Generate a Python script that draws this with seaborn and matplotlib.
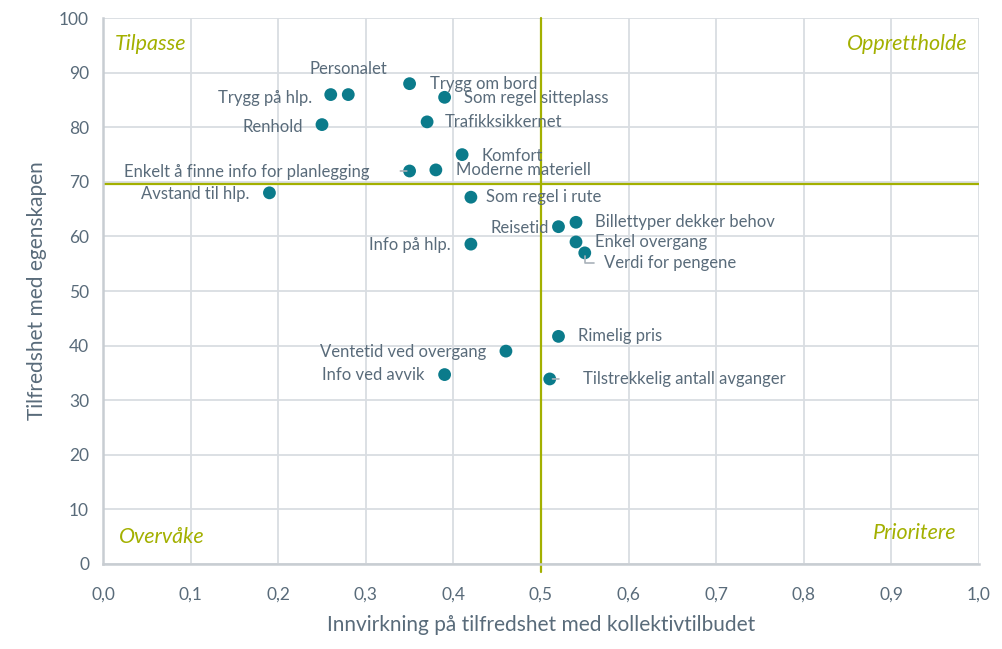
import matplotlib
matplotlib.use('Agg')
import matplotlib.pyplot as plt
import seaborn as sns
import pandas as pd
from matplotlib.ticker import FuncFormatter

# Data
labels = ['Personalet', 'Trygg på hlp.', 'Trygg om bord', 'Som regel sitteplass', 'Renhold',
          'Trafikksikkernet', 'Komfort', 'Moderne materiell', 'Enkelt å finne info for planlegging',
          'Avstand til hlp.', 'Som regel i rute', 'Reisetid', 'Billettyper dekker behov',
          'Enkel overgang', 'Verdi for pengene', 'Info på hlp.', 'Rimelig pris',
          'Ventetid ved overgang', 'Info ved avvik', 'Tilstrekkelig antall avganger']
impact = [0.28, 0.26, 0.35, 0.39, 0.25, 0.37, 0.41, 0.38, 0.35, 0.19, 0.42, 0.52, 0.54,
          0.54, 0.55, 0.42, 0.52, 0.46, 0.39, 0.51]
satisfaction = [86.0, 86.0, 88.0, 85.5, 80.5, 81.0, 75.0, 72.2, 72.0, 68.0, 67.2, 61.8, 62.6,
                59.0, 57.0, 58.6, 41.7, 39.0, 34.7, 33.9]
x_threshold = 0.5
y_threshold = 69.7
quadrants = ['Tilpasse', 'Opprettholde', 'Overvåke', 'Prioritere']

df = pd.DataFrame({'label': labels, 'impact': impact, 'satisfaction': satisfaction})

# label placement (pixel offsets from dot, alignment)
label_pos = {
    'Personalet': (0, 26, 'center'),
    'Trygg på hlp.': (-19, -3, 'right'),
    'Trygg om bord': (20, 0, 'left'),
    'Som regel sitteplass': (19, -1, 'left'),
    'Renhold': (-19, -2, 'right'),
    'Trafikksikkernet': (18, 0, 'left'),
    'Komfort': (19, -1, 'left'),
    'Moderne materiell': (20, 0, 'left'),
    'Enkelt å finne info for planlegging': (-40, -1, 'right'),
    'Avstand til hlp.': (-20, -1, 'right'),
    'Som regel i rute': (15, 0, 'left'),
    'Reisetid': (-10, -1, 'right'),
    'Billettyper dekker behov': (19, 0, 'left'),
    'Enkel overgang': (19, 0, 'left'),
    'Verdi for pengene': (19, -10, 'left'),
    'Info på hlp.': (-20, -1, 'right'),
    'Rimelig pris': (20, 0, 'left'),
    'Ventetid ved overgang': (-20, -1, 'right'),
    'Info ved avvik': (-20, 0, 'right'),
    'Tilstrekkelig antall avganger': (33, 0, 'left'),
}

teal = '#0B7B8B'
olive = '#A3B000'
text_col = '#596B7A'
grid_col = '#D9DDE2'

sns.set_theme(style='white')
plt.rcParams['font.family'] = ['Lato', 'DejaVu Sans']

fig, ax = plt.subplots(figsize=(10.03, 6.49), dpi=100)
fig.subplots_adjust(left=0.1027, right=0.976, bottom=0.131, top=0.972)

ax.set_xlim(0, 1)
ax.set_ylim(0, 100)
ax.set_xticks([i / 10 for i in range(11)])
ax.set_yticks(range(0, 101, 10))
ax.grid(True, color=grid_col, linewidth=1.3, zorder=0)
ax.set_axisbelow(True)

ax.axhline(y_threshold, color=olive, linewidth=1.6, zorder=1)
ax.axvline(x_threshold, ymin=-0.015, ymax=1, color=olive, linewidth=1.6, zorder=1, clip_on=False)

sns.scatterplot(data=df, x='impact', y='satisfaction', ax=ax, color=teal, s=85,
                edgecolor='none', zorder=3)

for _, row in df.iterrows():
    dx, dy, ha = label_pos[row['label']]
    ax.annotate(row['label'], (row['impact'], row['satisfaction']), xytext=(dx, dy),
                textcoords='offset pixels', ha=ha, va='center', fontsize=12,
                color=text_col, zorder=4)

# leader lines
lead = dict(color='#A9B2BA', linewidth=1.2, zorder=2)
ax.annotate('', (0.35, 72.0), xytext=(-12, 0), textcoords='offset pixels',
            arrowprops=dict(arrowstyle='-', **lead))
ax.annotate('', (0.51, 33.9), xytext=(12, 0), textcoords='offset pixels',
            arrowprops=dict(arrowstyle='-', **lead))
ax.annotate('', (0.55, 57.0), xytext=(12, -10), textcoords='offset pixels',
            arrowprops=dict(arrowstyle='-', connectionstyle='angle,angleA=0,angleB=90,rad=0', **lead))

# quadrant names
qkw = dict(color=olive, fontsize=15.5, style='italic', va='center', transform=ax.transAxes)
ax.text(0.014, 0.952, quadrants[0], ha='left', **qkw)
ax.text(0.987, 0.952, quadrants[1], ha='right', **qkw)
ax.text(0.018, 0.05, quadrants[2], ha='left', **qkw)
ax.text(0.974, 0.057, quadrants[3], ha='right', **qkw)

ax.xaxis.set_major_formatter(FuncFormatter(lambda v, p: f'{v:.1f}'.replace('.', ',')))
ax.tick_params(axis='both', colors=text_col, labelsize=12.5, length=0, pad=10)
ax.tick_params(axis='x', pad=16.5)

for side in ['top', 'right']:
    ax.spines[side].set_visible(False)
for side in ['left', 'bottom']:
    ax.spines[side].set_color('#C8CDD2')
    ax.spines[side].set_linewidth(1.8)

ax.set_xlabel('Innvirkning på tilfredshet med kollektivtilbudet', color=text_col, fontsize=15, labelpad=9)
ax.set_ylabel('Tilfredshet med egenskapen', color=text_col, fontsize=15, labelpad=9)

fig.savefig('out.png', dpi=100)
